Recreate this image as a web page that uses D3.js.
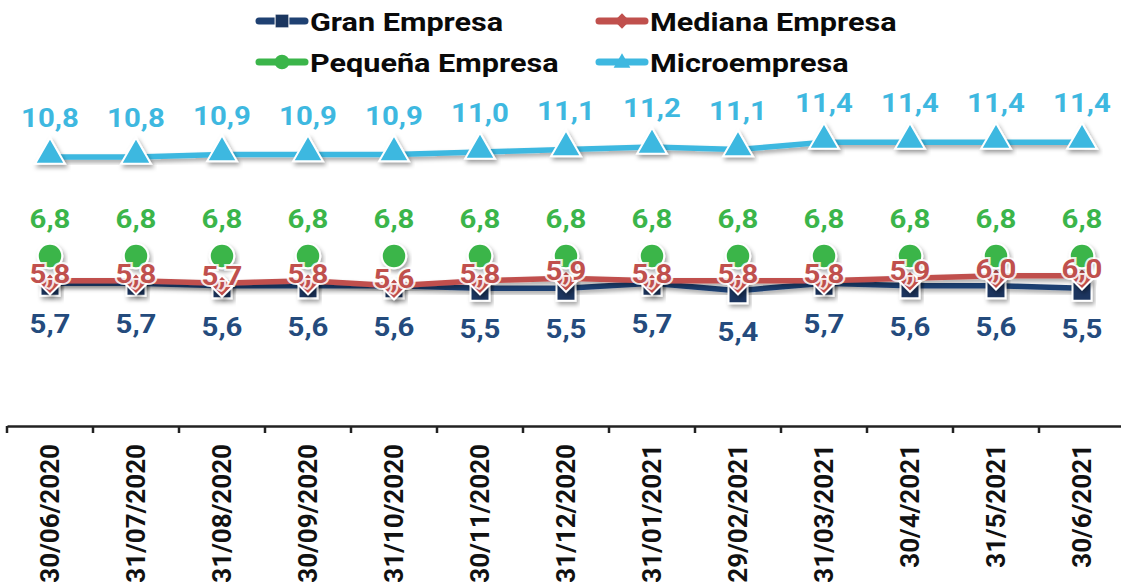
<!DOCTYPE html>
<html>
<head>
<meta charset="utf-8">
<script src="https://cdn.jsdelivr.net/npm/d3@7"></script>
<style>
  html, body { margin: 0; padding: 0; background: #ffffff; }
  svg { display: block; }
  text { font-family: Roboto, "Noto Sans", sans-serif; font-weight: 700; }
</style>
</head>
<body>
<svg id="chart" width="1121" height="584"></svg>
<script>
// Fechas de corte
const categories = ["30/06/2020","31/07/2020","31/08/2020","30/09/2020","31/10/2020","30/11/2020",
  "31/12/2020","31/01/2021","29/02/2021","31/03/2021","30/4/2021","31/5/2021","30/6/2021"];

// Valores por tamaño de empresa
const granEmpresa    = [5.7, 5.7, 5.6, 5.6, 5.6, 5.5, 5.5, 5.7, 5.4, 5.7, 5.6, 5.6, 5.5];
const medianaEmpresa = [5.8, 5.8, 5.7, 5.8, 5.6, 5.8, 5.9, 5.8, 5.8, 5.8, 5.9, 6.0, 6.0];
const pequenaEmpresa = [6.8, 6.8, 6.8, 6.8, 6.8, 6.8, 6.8, 6.8, 6.8, 6.8, 6.8, 6.8, 6.8];
const microempresa   = [10.8, 10.8, 10.9, 10.9, 10.9, 11.0, 11.1, 11.2, 11.1, 11.4, 11.4, 11.4, 11.4];

const series = [
  { name: "Gran Empresa",     values: granEmpresa,    line: "#1f4172", marker: "#1b365f", label: "#244b7d", shape: "square",   labelDy: 50 },
  { name: "Mediana Empresa",  values: medianaEmpresa, line: "#c0504d", marker: "#c0504d", label: "#c0504d", shape: "diamond",  labelDy: 2 },
  { name: "Pequeña Empresa",  values: pequenaEmpresa, line: "#3bb54a", marker: "#3bb54a", label: "#3bb54a", shape: "circle",   labelDy: -28 },
  { name: "Microempresa",     values: microempresa,   line: "#3eb8e0", marker: "#3eb8e0", label: "#3eb8e0", shape: "triangle", labelDy: -30 }
];

const svg = d3.select("#chart");
const fmt = v => d3.format(".1f")(v).replace(".", ",");

const x = d3.scaleBand().domain(categories).range([7, 1125]).padding(0);
const y = d3.scaleLinear().domain([0, 14]).range([424.3, 77.8]);
const cx = c => x(c) + x.bandwidth() / 2;

// sombra de líneas y marcadores
const defs = svg.append("defs");
const f = defs.append("filter").attr("id", "shadow")
  .attr("x", "-20%").attr("y", "-50%").attr("width", "140%").attr("height", "200%");
f.append("feDropShadow").attr("dx", 2).attr("dy", 3).attr("stdDeviation", 2)
  .attr("flood-color", "#000").attr("flood-opacity", 0.35);

// eje de categorías
const axis = svg.append("g").attr("transform", "translate(0,426)")
  .call(d3.axisBottom(x).tickSize(0).tickFormat(""));
axis.select(".domain").attr("stroke", "#222").attr("stroke-width", 2.5);
const bounds = categories.map(c => x(c));
axis.selectAll("line.bnd").data(bounds).join("line").attr("class", "bnd")
  .attr("x1", d => d).attr("x2", d => d).attr("y1", 0).attr("y2", 7)
  .attr("stroke", "#222").attr("stroke-width", 2.5);
axis.selectAll("text.lbl").data(categories).join("text").attr("class", "lbl")
  .attr("transform", d => `translate(${cx(d) + 9},18) rotate(-90)`)
  .attr("text-anchor", "end")
  .attr("font-size", 26)
  .attr("fill", "#111")
  .text(d => d);

const symbolFor = {
  square: d3.symbol().type(d3.symbolSquare).size(360),
  diamond: d3.symbol().type(d3.symbolDiamond2).size(290),
  circle: d3.symbol().type(d3.symbolCircle).size(470),
  triangle: d3.symbol().type(d3.symbolTriangle2).size(640)
};
const legendSymbol = {
  square: d3.symbol().type(d3.symbolSquare).size(190),
  diamond: d3.symbol().type(d3.symbolDiamond2).size(150),
  circle: d3.symbol().type(d3.symbolCircle).size(170),
  triangle: d3.symbol().type(d3.symbolTriangle2).size(200)
};

const lineGen = d3.line().x((d, i) => cx(categories[i])).y(d => y(d));

// líneas
series.forEach(s => {
  svg.append("path").datum(s.values)
    .attr("d", lineGen)
    .attr("fill", "none")
    .attr("stroke", s.line)
    .attr("stroke-width", 5.5)
    .attr("stroke-linejoin", "round")
    .attr("filter", "url(#shadow)");
});

// marcadores
series.forEach(s => {
  svg.append("g").selectAll("path").data(s.values).join("path")
    .attr("transform", (d, i) => `translate(${cx(categories[i])},${y(d) + (s.shape === "triangle" ? -2 : s.shape === "square" ? 3 : s.shape === "diamond" ? 3 : 0)})`)
    .attr("d", symbolFor[s.shape]())
    .attr("fill", s.marker)
    .attr("stroke", "#fff")
    .attr("stroke-width", 2)
    .attr("filter", "url(#shadow)");
});

// etiquetas de datos
series.forEach(s => {
  svg.append("g").selectAll("text").data(s.values).join("text")
    .attr("transform", (d, i) => `translate(${cx(categories[i])},${y(d) + s.labelDy}) scale(1.13,1)`)
    .attr("text-anchor", "middle")
    .attr("font-size", 26)
    .attr("fill", s.label)
    .attr("stroke", s.shape === "diamond" ? "#fff" : "none")
    .attr("stroke-width", s.shape === "diamond" ? 4 : 0)
    .attr("stroke-opacity", 0.85)
    .attr("paint-order", "stroke")
    .text(d => fmt(d));
});

// leyenda
const legendPos = [
  { x: 256, y: 21 }, { x: 596, y: 21 }, { x: 256, y: 62 }, { x: 596, y: 62 }
];
series.forEach((s, i) => {
  const g = svg.append("g").attr("transform", `translate(${legendPos[i].x},${legendPos[i].y})`);
  g.append("line").attr("x1", 3).attr("x2", 49).attr("y1", 0).attr("y2", 0)
    .attr("stroke", s.line).attr("stroke-width", 7).attr("stroke-linecap", "round");
  g.append("path").attr("transform", `translate(26,${s.shape === "triangle" ? 1 : 0})`)
    .attr("d", legendSymbol[s.shape]())
    .attr("fill", s.marker)
    .attr("stroke", s.shape === "square" ? "#fff" : "none")
    .attr("stroke-width", 1);
  g.append("text").attr("transform", "translate(54,10) scale(1.2,1)")
    .attr("font-size", 25.5).attr("fill", "#0a0a0a")
    .text(s.name);
});
</script>
</body>
</html>
